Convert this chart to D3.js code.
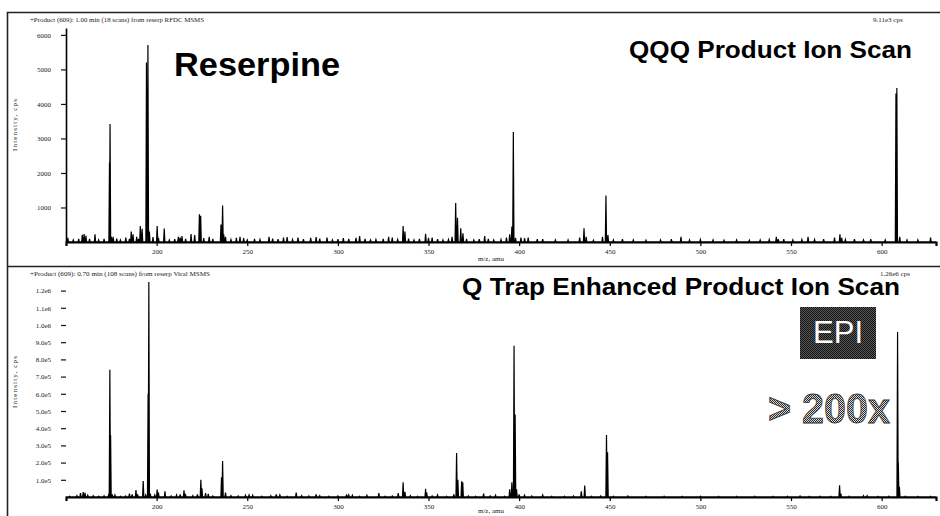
<!DOCTYPE html>
<html>
<head>
<meta charset="utf-8">
<script src="https://cdn.jsdelivr.net/npm/d3@7"></script>
<style>
  body { margin: 0; background: #fff; }
  svg { display: block; }
  .tick text { font-family: "Liberation Serif", serif; font-size: 7px; fill: #222; }
  .small { font-family: "Liberation Serif", serif; font-size: 7px; fill: #222; }
  .big { font-family: "Liberation Sans", Arial, sans-serif; font-weight: bold; fill: #000; }
</style>
</head>
<body>
<div id="chart"></div>
<script>
// tick values and labels
const xTicks = [200, 250, 300, 350, 400, 450, 500, 550, 600];
const topYTicks = [1000, 2000, 3000, 4000, 5000, 6000];
const botYTicks = [1e5, 2e5, 3e5, 4e5, 5e5, 6e5, 7e5, 8e5, 9e5, 1e6, 1.1e6, 1.2e6];
const botYLabels = ['1.0e5', '2.0e5', '3.0e5', '4.0e5', '5.0e5', '6.0e5', '7.0e5', '8.0e5', '9.0e5', '1.0e6', '1.1e6', '1.2e6'];

// QQQ product ion scan, [m/z, cps]
const topPeaks = [
  [151,120],[154,60],[157,90],[159,210],[160,230],[161,180],[163,90],[166,220],[168,60],[171,90],
  [174,2300],[174.3,3420],[175,150],[176,150],[178,100],[180,60],[183,130],[185,90],[186,300],[187,220],
  [189,150],[190,90],[191,460],[192,380],[194.4,5200],[195.2,5710],[196,300],[198,140],[200.3,460],[201,120],
  [204.2,390],[207,60],[210,80],[212,150],[213,130],[214,170],[216,90],[219,230],[221,200],[223.6,800],
  [224.3,760],[226,110],[229,150],[231,90],[235.5,510],[236.4,1060],[237,220],[238,150],[241,70],[244,120],
  [246,150],[248,110],[250,60],[254,90],[257,70],[262,150],[264,100],[267,80],[270,130],[272,140],
  [275,70],[278,130],[281,80],[285,120],[288,140],[290,100],[294,130],[297,60],[300,80],[303,110],
  [306,90],[310,120],[312,170],[315,90],[318,60],[321,70],[325,90],[328,150],[330,130],[333,70],
  [336,460],[337,300],[339,100],[342,60],[345,90],[348.4,240],[350,120],[352,130],[355,80],[358,60],
  [361,70],[363,150],[365,1130],[366,700],[367.8,400],[369,250],[371,90],[375,60],[378,80],[381,170],
  [383,90],[386,60],[390,70],[393,130],[394.8,220],[396,450],[396.8,3190],[398,120],[401,130],[403,110],
  [405,130],[410,80],[413,80],[420,60],[427,60],[433.4,130],[435.8,400],[437,150],[441,50],[446,150],
  [447.9,1350],[449,200],[452,60],[457,80],[463,60],[470,50],[478,60],[484,80],[489.3,150],[494,60],
  [500,70],[507,60],[513,50],[520,60],[527,50],[533,60],[538,70],[541.9,150],[543,80],[546,80],
  [551,60],[556,70],[559.4,150],[563,70],[568,80],[574,130],[577,220],[578,120],[580,70],[585,80],
  [590,60],[594,80],[602,60],[607.9,4300],[608.4,4460],[610,150],[614,60],[620,60],[627,130]
];

// Q Trap EPI scan, [m/z, cps]
const botPeaks = [
  [152,5e3],[156,8e3],[158,2.2e4],[159.5,2.9e4],[160.5,2.4e4],[162,1e4],[165,8e3],[168,5e3],[171,7e3],[173.5,1.2e4],
  [174.2,7.4e5],[174.6,3.6e5],[175.5,1.5e4],[177,1.2e4],[180,5e3],[183,6e3],[185,2e4],[186.5,1.5e4],[188.6,4e4],[189.5,1.5e4],
  [192.6,9.3e4],[194,1.2e4],[195.3,6e5],[195.7,1.25e6],[196.5,2e4],[199,1.2e4],[200.3,4.3e4],[201,2.5e4],[204.6,3.3e4],[208,6e3],
  [211,1.2e4],[213,1.5e4],[215.1,3.9e4],[216,1.2e4],[220,8e3],[222.5,1.5e4],[224.4,1.0e5],[225,5e4],[227,2.2e4],[228.5,1.8e4],
  [231,6e3],[235.8,1.15e5],[236.4,2.09e5],[238,2.5e4],[241,8e3],[245,6e3],[249,1e4],[251,1.2e4],[253,1e4],[258,5e3],
  [263,8e3],[266,1.5e4],[268,1.2e4],[272,5e3],[277,2.5e4],[280,8e3],[284,6e3],[288,1.5e4],[290,8e3],[295,5e3],
  [300,6e3],[304.8,1.5e4],[306,1.2e4],[308,1e4],[312,5e3],[316,1e4],[322.6,2.2e4],[326,5e3],[330,6e3],[333.3,2.2e4],
  [336,8.5e4],[337,3e4],[340,8e3],[344,5e3],[348.4,4.8e4],[349,2.5e4],[352,6e3],[355,1.2e4],[360,5e3],[364,1.5e4],
  [365.5,2.56e5],[366.2,1e5],[368.3,9.1e4],[368.9,8.5e4],[372,6e3],[376,5e3],[380.4,2e4],[384,6e3],[387,1e4],[392,5e3],
  [394.8,4.5e4],[396,8.5e4],[397.2,8.8e5],[397.8,4.8e5],[398.6,4.5e4],[400,1.5e4],[403,1e4],[407,6e3],[413,1.2e4],[418,5e3],
  [425,5e3],[430,6e3],[434.3,3.3e4],[436.2,6.6e4],[440,5e3],[445,6e3],[448.2,3.6e5],[448.8,2.6e5],[452,5e3],[460,6e3],
  [470,4e3],[480,5e3],[490,4e3],[500,5e3],[510,4e3],[520,4e3],[530,5e3],[540,4e3],[548,5e3],[555,6e3],
  [560,4e3],[566,5e3],[572,4e3],[576.8,6.8e4],[577.5,2e4],[582,5e3],[590,8e3],[592,8e3],[598,4e3],[604,5e3],
  [608.8,9.6e5],[609.2,2e5],[609.8,6e4],[613,5e3],[620,4e3],[627,4e3]
];

const width = 940, height = 516;
const peakHalf = 0.35; // half width of a profile peak, amu

const svg = d3.select('#chart').append('svg')
    .attr('width', width)
    .attr('height', height);

// dithered fills like the scanned slide
const defs = svg.append('defs');
function dither(id, light, dark) {
    const p = defs.append('pattern')
        .attr('id', id)
        .attr('width', 2).attr('height', 2)
        .attr('patternUnits', 'userSpaceOnUse');
    p.append('rect').attr('width', 2).attr('height', 2).attr('fill', light);
    p.append('rect').attr('width', 1).attr('height', 1).attr('fill', dark);
    p.append('rect').attr('x', 1).attr('y', 1).attr('width', 1).attr('height', 1).attr('fill', dark);
}
dither('darkDots', '#5a5a5a', '#111');
dither('greyDots', '#d8d8d8', '#2a2a2a');

// outer frame and panel separator
svg.append('path')
    .attr('d', 'M940,12.5H7.5V516M7.5,266.5H940')
    .attr('fill', 'none')
    .attr('stroke', '#222')
    .attr('stroke-width', 1.6);

const xScale = d3.scaleLinear().domain([150, 630]).range([66, 936]);

function drawPanel(opt) {
    const g = svg.append('g');
    const yScale = d3.scaleLinear().domain(opt.yDomain).range(opt.yRange);

    // header lines
    g.append('text').attr('class', 'small')
        .attr('x', 30).attr('y', opt.headY)
        .attr('textLength', opt.headLen).attr('lengthAdjust', 'spacingAndGlyphs')
        .text(opt.header);
    g.append('text').attr('class', 'small')
        .attr('x', opt.cpsX).attr('y', opt.headY)
        .text(opt.cps);

    // y axis
    const yAxis = d3.axisLeft(yScale)
        .tickValues(opt.yTicks)
        .tickFormat((d, i) => opt.yLabels[i])
        .tickSize(5)
        .tickSizeOuter(0)
        .tickPadding(10);
    const yg = g.append('g')
        .attr('transform', 'translate(66,0)')
        .call(yAxis);
    yg.selectAll('.tick line').attr('stroke', '#111').attr('stroke-width', 1.2);
    if (opt.yLine) yg.select('.domain').attr('stroke', '#000').attr('stroke-width', 1.6);
    else yg.select('.domain').remove();

    g.append('text').attr('class', 'small')
        .attr('transform', 'translate(17,' + opt.titleY + ') rotate(-90)')
        .attr('text-anchor', 'middle')
        .attr('textLength', 52).attr('lengthAdjust', 'spacing')
        .text('Intensity, cps');

    // spectrum as thin profile peaks on the baseline
    const pts = [[150, 0]];
    opt.peaks.forEach(p => {
        pts.push([p[0] - peakHalf, 0], [p[0], p[1]], [p[0] + peakHalf, 0]);
    });
    pts.push([630, 0]);
    const line = d3.line()
        .x(d => xScale(d[0]))
        .y(d => yScale(d[1]));
    g.append('path')
        .datum(pts)
        .attr('d', line)
        .attr('fill', 'none')
        .attr('stroke', '#000')
        .attr('stroke-width', 1.2)
        .attr('stroke-linejoin', 'miter');

    // x axis
    const xAxis = d3.axisBottom(xScale)
        .tickValues(xTicks)
        .tickFormat(d3.format('d'))
        .tickSize(4)
        .tickSizeOuter(4)
        .tickPadding(3);
    const xg = g.append('g')
        .attr('transform', 'translate(0,' + yScale(0) + ')')
        .call(xAxis);
    xg.select('.domain').attr('stroke', '#000').attr('stroke-width', 2.2);
    xg.selectAll('.tick line').attr('stroke', '#000').attr('stroke-width', 1.2);

    g.append('text').attr('class', 'small')
        .attr('x', 491).attr('y', yScale(0) + opt.labelDy)
        .attr('text-anchor', 'middle')
        .text('m/z, amu');
}

drawPanel({
    peaks: topPeaks,
    yDomain: [0, 6200], yRange: [242, 28],
    yTicks: topYTicks, yLabels: topYTicks.map(String),
    yLine: true,
    header: '+Product (609): 1.00 min (18 scans) from reserp RFDC MSMS',
    headY: 22, headLen: 174,
    cps: '9.11e3 cps', cpsX: 873,
    titleY: 125, labelDy: 19
});

drawPanel({
    peaks: botPeaks,
    yDomain: [0, 1.2e6], yRange: [497, 290.6],
    yTicks: botYTicks, yLabels: botYLabels,
    yLine: false,
    header: '+Product (609): 0.70 min (108 scans) from reserp Viral MSMS',
    headY: 276, headLen: 180,
    cps: '1.26e6 cps', cpsX: 880,
    titleY: 382, labelDy: 16
});

// slide annotations
svg.append('text').attr('class', 'big')
    .attr('x', 174).attr('y', 76)
    .attr('font-size', 33)
    .attr('textLength', 166).attr('lengthAdjust', 'spacingAndGlyphs')
    .text('Reserpine');

svg.append('text').attr('class', 'big')
    .attr('x', 629).attr('y', 58)
    .attr('font-size', 23)
    .attr('textLength', 283).attr('lengthAdjust', 'spacingAndGlyphs')
    .text('QQQ Product Ion Scan');

svg.append('text').attr('class', 'big')
    .attr('x', 462).attr('y', 295)
    .attr('font-size', 23)
    .attr('textLength', 438).attr('lengthAdjust', 'spacingAndGlyphs')
    .text('Q Trap Enhanced Product Ion Scan');

svg.append('rect')
    .attr('x', 800).attr('y', 307)
    .attr('width', 76).attr('height', 52)
    .attr('fill', 'url(#darkDots)');
svg.append('text')
    .attr('x', 838).attr('y', 343)
    .attr('text-anchor', 'middle')
    .attr('font-family', '"Liberation Sans", Arial, sans-serif')
    .attr('font-size', 32)
    .attr('fill', '#fff')
    .attr('textLength', 50).attr('lengthAdjust', 'spacingAndGlyphs')
    .text('EPI');

svg.append('text').attr('class', 'big')
    .attr('x', 768).attr('y', 423)
    .attr('font-size', 43)
    .style('fill', 'url(#greyDots)')
    .attr('stroke', '#333').attr('stroke-width', 0.8)
    .attr('textLength', 122).attr('lengthAdjust', 'spacingAndGlyphs')
    .text('> 200x');
</script>
</body>
</html>
